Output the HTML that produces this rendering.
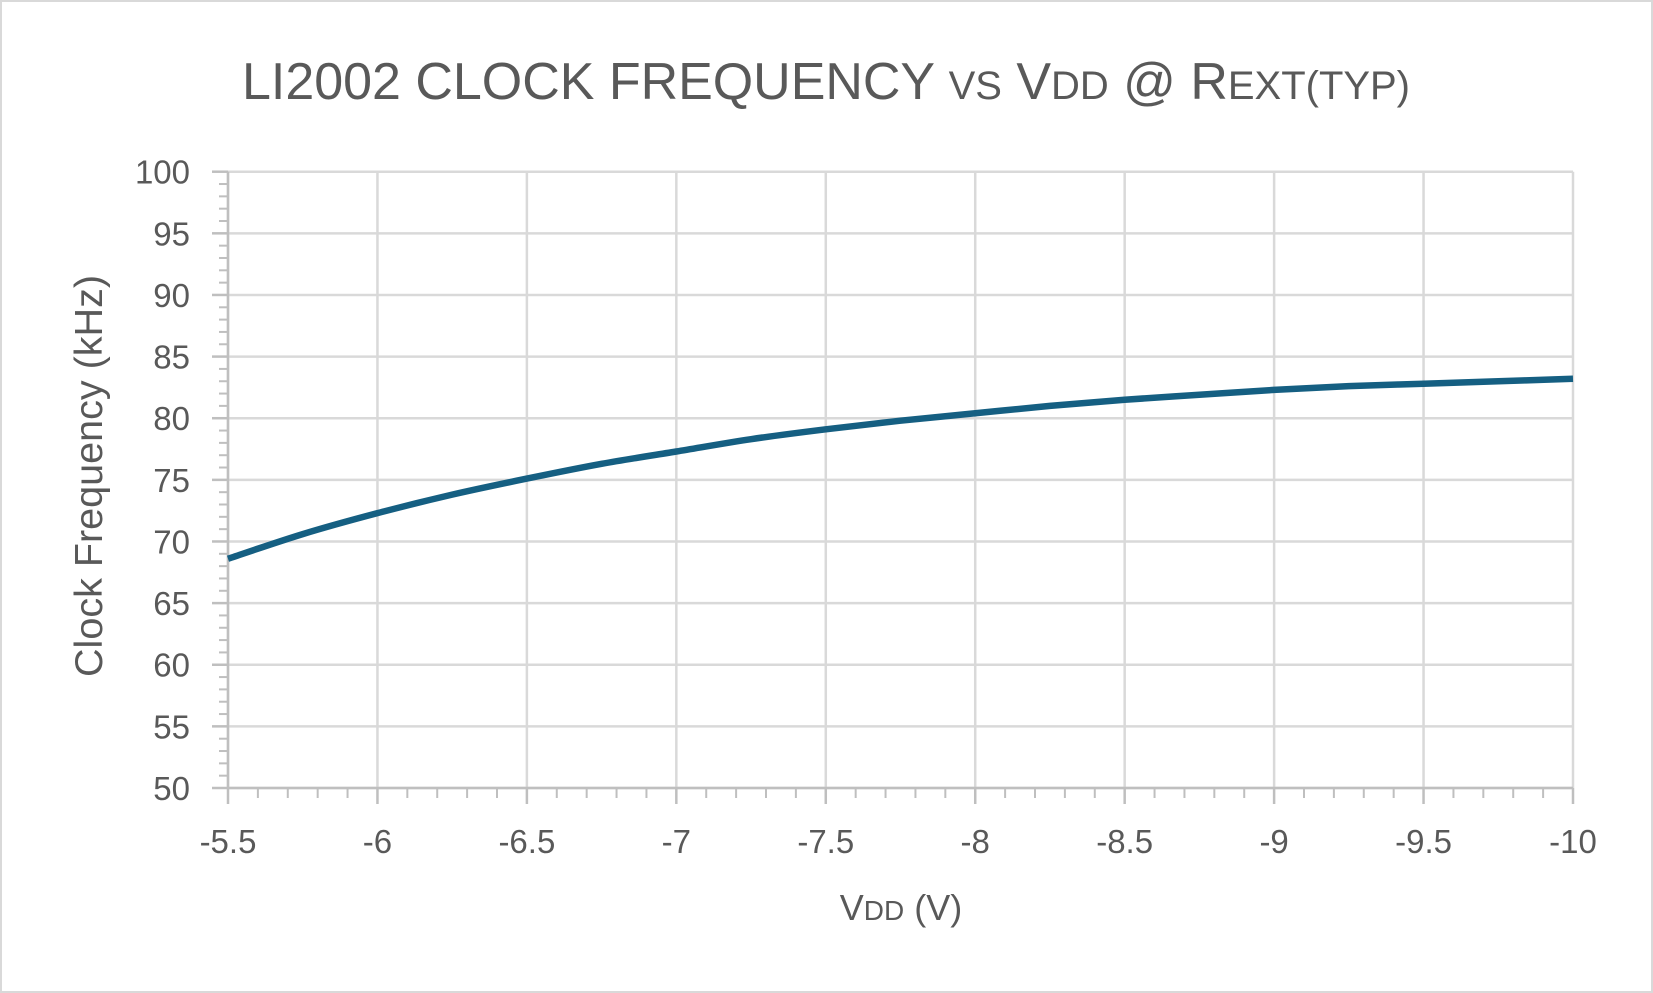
<!DOCTYPE html>
<html><head><meta charset="utf-8"><style>
html,body{margin:0;padding:0;background:#fff;}
svg{display:block;font-family:"Liberation Sans",sans-serif;}
</style></head><body>
<svg id="chart" width="1653" height="993" viewBox="0 0 1653 993" xmlns="http://www.w3.org/2000/svg">
<rect x="1" y="1" width="1651" height="991" fill="#fff" stroke="#d9d9d9" stroke-width="2"/>
<text x="242" y="99" font-size="52" fill="#595959" textLength="1168" lengthAdjust="spacingAndGlyphs">LI2002 CLOCK FREQUENCY <tspan font-size="40">VS</tspan> V<tspan font-size="40">DD</tspan> @ R<tspan font-size="40">EXT(TYP)</tspan></text>
<g id="grid"></g>
<g id="axes"></g>
<g id="series"></g>
<text x="901" y="920" font-size="36" fill="#595959" text-anchor="middle">V<tspan font-size="28">DD</tspan> (V)</text>
<text transform="translate(102,476) rotate(-90)" font-size="39" fill="#595959" text-anchor="middle" textLength="402" lengthAdjust="spacingAndGlyphs">Clock Frequency (kHz)</text>
</svg>
<script>
const xTicks = [-5.5,-6,-6.5,-7,-7.5,-8,-8.5,-9,-9.5,-10];
const xTickLabels = ["-5.5","-6","-6.5","-7","-7.5","-8","-8.5","-9","-9.5","-10"];
const yTicks = [50,55,60,65,70,75,80,85,90,95,100];
const vdd = [-5.5,-5.75,-6,-6.25,-6.5,-6.75,-7,-7.25,-7.5,-7.75,-8,-8.25,-8.5,-8.75,-9,-9.25,-9.5,-9.75,-10];
const freq = [68.6,70.6,72.3,73.8,75.1,76.3,77.3,78.3,79.1,79.8,80.4,81.0,81.5,81.9,82.3,82.6,82.8,83.0,83.2];

const X0=228, X1=1573, Y0=788, Y1=171.7;
const xs = v => X0 + (v - (-5.5)) / (-10 - (-5.5)) * (X1 - X0);
const ys = v => Y0 - (v - 50) / (100 - 50) * (Y0 - Y1);
const NS="http://www.w3.org/2000/svg";
function mk(tag, attrs, parent){const e=document.createElementNS(NS,tag);for(const k in attrs)e.setAttribute(k,attrs[k]);parent.appendChild(e);return e;}
const grid=document.getElementById('grid'), axes=document.getElementById('axes'), series=document.getElementById('series');

yTicks.forEach(t=>{
  const l=mk('line',{x1:X0,x2:X1,y1:ys(t),y2:ys(t),stroke:'#d9d9d9','stroke-width':2.5},grid);
  
  
  const tk=mk('line',{x1:X0-16,x2:X0,y1:ys(t),y2:ys(t),stroke:'#bfbfbf','stroke-width':2.5},axes);
  
  
  const tx=mk('text',{x:190,y:ys(t)+12,'font-size':33,fill:'#595959','text-anchor':'end'},axes);
  tx.textContent=String(t);
  
  
});
for(let v=51; v<100; v++){ if(v%5===0) continue;
  const m=mk('line',{x1:X0-9,x2:X0,y1:ys(v),y2:ys(v),stroke:'#bfbfbf','stroke-width':2},axes);
  
  
}
xTicks.forEach((t,i)=>{
  const l=mk('line',{x1:xs(t),x2:xs(t),y1:Y1,y2:Y0,stroke:'#d9d9d9','stroke-width':2.5},grid);
  
  
  const tk=mk('line',{x1:xs(t),x2:xs(t),y1:Y0,y2:Y0+16,stroke:'#bfbfbf','stroke-width':2.5},axes);
  
  
  const tx=mk('text',{x:xs(t),y:853,'font-size':33,fill:'#595959','text-anchor':'middle'},axes);
  tx.textContent=xTickLabels[i];
  
  
});
for(let k=0;k<45;k++){ if(k%5===0) continue; const v=-5.5-k*0.1;
  const m=mk('line',{x1:xs(v),x2:xs(v),y1:Y0,y2:Y0+10,stroke:'#bfbfbf','stroke-width':2},axes);
  
  
}
const ya=mk('line',{x1:X0,x2:X0,y1:Y1,y2:Y0,stroke:'#bfbfbf','stroke-width':2.5},axes);


const xa=mk('line',{x1:X0,x2:X1,y1:Y0,y2:Y0,stroke:'#bfbfbf','stroke-width':2.5},axes);



const P=vdd.map((v,i)=>[xs(v),ys(freq[i])]);
let d='M'+P[0][0]+','+P[0][1];
for(let i=0;i<P.length-1;i++){
  const p0=P[Math.max(0,i-1)],p1=P[i],p2=P[i+1],p3=P[Math.min(P.length-1,i+2)];
  const c1=[p1[0]+(p2[0]-p0[0])/6,p1[1]+(p2[1]-p0[1])/6];
  const c2=[p2[0]-(p3[0]-p1[0])/6,p2[1]-(p3[1]-p1[1])/6];
  d+=' C'+c1.join(',')+' '+c2.join(',')+' '+p2.join(',');
}
const path=mk('path',{d:d,fill:'none',stroke:'#155f82','stroke-width':6.5,'stroke-linejoin':'round'},series);


</script>
</body></html>
